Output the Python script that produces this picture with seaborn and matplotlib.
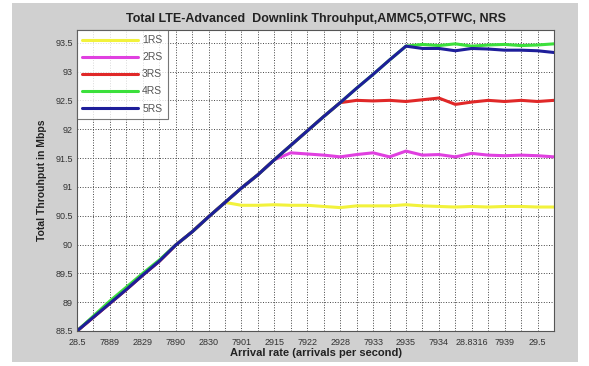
import numpy as np
import pandas as pd
import matplotlib
matplotlib.use("Agg")
import matplotlib.pyplot as plt
from matplotlib.patches import Rectangle
import seaborn as sns

# ---- data ----
idx = list(range(30))
rise = [88.50, 88.74, 88.98, 89.22, 89.47, 89.71, 89.99, 90.22, 90.48, 90.73,
        90.98, 91.21, 91.47, 91.72, 91.97, 92.22, 92.46, 92.71, 92.95, 93.20, 93.44]
rs1 = rise[:10] + [90.68, 90.68, 90.69, 90.68, 90.68, 90.66, 90.64, 90.67, 90.67, 90.67,
                   90.69, 90.67, 90.66, 90.65, 90.66, 90.65, 90.66, 90.66, 90.65, 90.65]
rs2 = rise[:13] + [91.59, 91.57, 91.55, 91.52, 91.56, 91.59, 91.52, 91.62, 91.55, 91.56,
                   91.52, 91.58, 91.55, 91.54, 91.55, 91.54, 91.52]
rs3 = rise[:17] + [92.50, 92.49, 92.50, 92.48, 92.51, 92.54, 92.43, 92.47, 92.50, 92.48,
                   92.50, 92.48, 92.50]
rs4 = [88.50, 88.76, 89.02, 89.26, 89.50, 89.73, 89.99, 90.22, 90.48, 90.73,
       90.98, 91.21, 91.47, 91.72, 91.97, 92.22, 92.46, 92.71, 92.95, 93.20, 93.44,
       93.47, 93.45, 93.48, 93.44, 93.46, 93.47, 93.45, 93.46, 93.48]
rs5 = rise + [93.40, 93.40, 93.36, 93.40, 93.39, 93.37, 93.37, 93.36, 93.33]
series_names = ["1RS", "2RS", "3RS", "4RS", "5RS"]
series_colors = ["#f2f23c", "#e040e0", "#e02828", "#3ce03c", "#1e1e9a"]

yticks = [88.5, 89, 89.5, 90, 90.5, 91, 91.5, 92, 92.5, 93, 93.5]
ytick_labels = ["88.5", "89", "89.5", "90", "90.5", "91", "91.5", "92", "92.5", "93", "93.5"]
xtick_labels_even = ["28.5", "7889", "2829", "7890", "2830", "7901", "2915", "7922",
                     "2928", "7933", "2935", "7934", "28.8316", "7939", "29.5"]

title = "Total LTE-Advanced  Downlink Throuhput,AMMC5,OTFWC, NRS"
xlabel = "Arrival rate (arrivals per second)"
ylabel = "Total Throuhput in Mbps"

df = pd.DataFrame({
    "x": idx * 5,
    "y": rs1 + rs2 + rs3 + rs4 + rs5,
    "series": sum([[n] * 30 for n in series_names], []),
})

sns.set_theme(style="white")
plt.rcParams["font.family"] = ["Liberation Sans", "DejaVu Sans"]

fig = plt.figure(figsize=(5.89, 3.66), dpi=100)
fig.patch.set_facecolor("white")
fig.patches.append(Rectangle((12 / 589, 4 / 366), 566 / 589, 359 / 366,
                             transform=fig.transFigure, facecolor="#d0d0d0",
                             edgecolor="none", zorder=-10))
ax = fig.add_axes([77 / 589, 35 / 366, 477 / 589, 301 / 366])
ax.set_facecolor("white")

sns.lineplot(data=df, x="x", y="y", hue="series", hue_order=series_names,
             palette=series_colors, linewidth=2.2, ax=ax, legend=True)

ax.set_xlim(0, 29)
ax.set_ylim(88.5, 93.72)
ax.set_yticks(yticks)
ax.set_yticklabels(ytick_labels)
ax.set_xticks(idx)
ax.set_xticklabels([xtick_labels_even[i // 2] if i % 2 == 0 else "" for i in idx])
ax.tick_params(axis="both", labelsize=6.5, colors="#333333", length=0)
ax.tick_params(axis="x", pad=5)
ax.tick_params(axis="y", pad=3)
ax.grid(True, linestyle=":", color="#444444", linewidth=0.7)
for s in ax.spines.values():
    s.set_color("#555555")
    s.set_linewidth(0.8)

ax.set_title(title, fontsize=9, fontweight="bold", color="#222222", pad=6)
ax.set_xlabel(xlabel, fontsize=8, fontweight="bold", color="#222222", labelpad=1)
ax.set_ylabel(ylabel, fontsize=7.5, fontweight="bold", color="#222222", labelpad=6)

leg = ax.legend(loc="upper left", fontsize=7.5, frameon=True, fancybox=False,
                borderaxespad=0.0, handlelength=5.4, labelspacing=0.68,
                borderpad=0.5, handletextpad=0.35)
leg.get_frame().set_edgecolor("#555555")
leg.get_frame().set_linewidth(0.8)
for t in leg.get_texts():
    t.set_color("#555555")
for ln in leg.get_lines():
    ln.set_linewidth(2.2)

fig.savefig("out.png", dpi=100, facecolor=fig.get_facecolor())
